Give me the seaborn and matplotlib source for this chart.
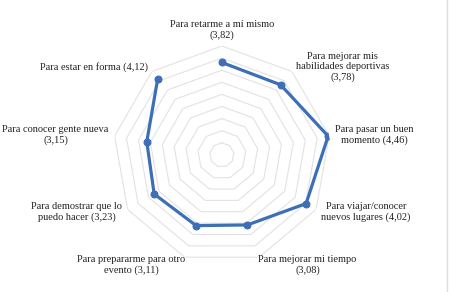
import numpy as np
import pandas as pd
import matplotlib.pyplot as plt
import seaborn as sns
from matplotlib.lines import Line2D

# Motivaciones (media de cada ítem)
categorias = ['Para retarme a mí mismo', 'Para mejorar mis\nhabilidades deportivas',
              'Para pasar un buen\nmomento', 'Para viajar/conocer\nnuevos lugares',
              'Para mejorar mi tiempo', 'Para prepararme para otro\nevento',
              'Para demostrar que lo\npuedo hacer', 'Para conocer gente nueva',
              'Para estar en forma']
valores = [3.82, 3.78, 4.46, 4.02, 3.08, 3.11, 3.23, 3.15, 4.12]
etiquetas = ['Para retarme a mí mismo\n(3,82)', 'Para mejorar mis\nhabilidades deportivas\n(3,78)',
             'Para pasar un buen\nmomento (4,46)', 'Para viajar/conocer\nnuevos lugares (4,02)',
             'Para mejorar mi tiempo\n(3,08)', 'Para prepararme para otro\nevento (3,11)',
             'Para demostrar que lo\npuedo hacer (3,23)', 'Para conocer gente nueva\n(3,15)',
             'Para estar en forma (4,12)']
niveles = [0.5, 1.0, 1.5, 2.0, 2.5, 3.0, 3.5, 4.0, 4.5]

sns.set_style('white')
plt.rcParams['font.family'] = ['Liberation Serif', 'DejaVu Serif']

n = len(categorias)
angulos = np.linspace(0, 2 * np.pi, n, endpoint=False)
df = pd.DataFrame({'angulo': np.append(angulos, angulos[0]),
                   'valor': valores + valores[:1]})

fig = plt.figure(figsize=(4.5, 2.92), dpi=100)
ax = fig.add_axes([0.251, 0.096, 0.484, 0.747], projection='polar')
ax.set_theta_offset(np.pi / 2)
ax.set_theta_direction(-1)
ax.set_ylim(0, 4.5)

# rejilla poligonal
ang_cerrado = np.append(angulos, angulos[0])
for nv in niveles:
    ax.plot(ang_cerrado, [nv] * (n + 1), color='#e2e2e2', lw=0.8, zorder=1)

sns.lineplot(data=df, x='angulo', y='valor', sort=False, ax=ax, color='#3d6fb6',
             lw=2.3, marker='o', markersize=5, markeredgecolor='#3d6fb6', zorder=3)

ax.grid(False)
ax.spines['polar'].set_visible(False)
ax.set_xticks([])
ax.set_yticks([])
ax.set_xlabel('')
ax.set_ylabel('')

for ang, txt in zip(angulos, etiquetas):
    s, c = np.sin(ang), np.cos(ang)
    if abs(s) < 0.1:
        ha = 'center'
    elif s > 0:
        ha = 'left'
    else:
        ha = 'right'
    r = 4.75
    if c > 0.9:
        va = 'bottom'
    elif c < -0.9:
        va = 'top'
        r = 4.4
    else:
        va = 'center'
    ax.text(ang, r, txt, ha=ha, va=va, fontsize=7.5, color='#222222',
            multialignment='center', linespacing=1.2)

fig.add_artist(Line2D([0.993, 0.993], [0, 1], color='#dddddd', lw=1))
fig.savefig('out.png', dpi=100, facecolor='white')
